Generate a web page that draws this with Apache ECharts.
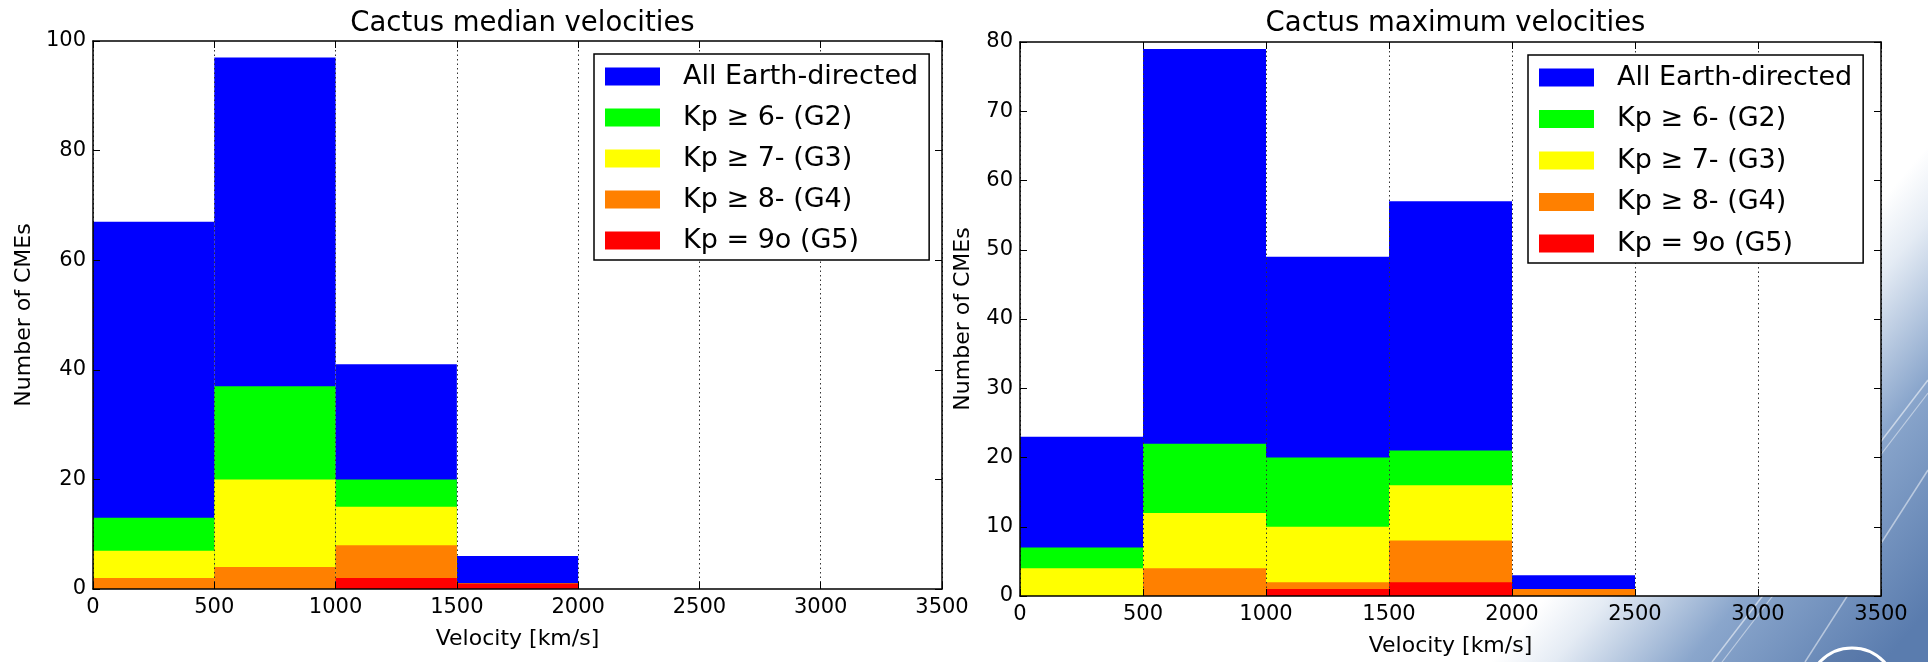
<!DOCTYPE html>
<html><head><meta charset="utf-8">
<script src="https://cdn.jsdelivr.net/npm/echarts@6/dist/echarts.min.js"></script>
<style>html,body{margin:0;padding:0;background:#fff}#c{width:1928px;height:662px}</style>
</head><body><div id="c"></div>
<script>
// ---- data ----
const binEdges = [0, 500, 1000, 1500, 2000, 2500, 3000, 3500];
const seriesNames = ['All Earth-directed', 'Kp \u2265 6- (G2)', 'Kp \u2265 7- (G3)', 'Kp \u2265 8- (G4)', 'Kp = 9o (G5)'];
const seriesColors = ['#0000ff', '#00ff00', '#ffff00', '#ff8000', '#ff0000'];

const medianAll = [67, 97, 41, 6, 0, 0, 0];
const medianG2  = [13, 37, 20, 1, 0, 0, 0];
const medianG3  = [7, 20, 15, 1, 0, 0, 0];
const medianG4  = [2, 4, 8, 1, 0, 0, 0];
const medianG5  = [0, 0, 2, 1, 0, 0, 0];

const maxAll = [23, 79, 49, 57, 3, 0, 0];
const maxG2  = [7, 22, 20, 21, 1, 0, 0];
const maxG3  = [4, 12, 10, 16, 1, 0, 0];
const maxG4  = [0, 4, 2, 8, 1, 0, 0];
const maxG5  = [0, 0, 1, 2, 0, 0, 0];

const xTickLabels = ['0', '500', '1000', '1500', '2000', '2500', '3000', '3500'];
const medianYTicks = [0, 20, 40, 60, 80, 100];
const maxYTicks = [0, 10, 20, 30, 40, 50, 60, 70, 80];

const titles = ['Cactus median velocities', 'Cactus maximum velocities'];
const xName = 'Velocity [km/s]';
const yName = 'Number of CMEs';

// ---- build ----
const FONT = 'DejaVu Sans';
const medianSets = [medianAll, medianG2, medianG3, medianG4, medianG5];
const maxSets = [maxAll, maxG2, maxG3, maxG4, maxG5];

function binData(vals) {
  return vals.map((v, i) => [binEdges[i], binEdges[i + 1], v]);
}
function renderBin(params, api) {
  const x0 = api.value(0), x1 = api.value(1), v = api.value(2);
  if (!v) return null;
  const p0 = api.coord([x0, v]);
  const p1 = api.coord([x1, 0]);
  return {
    type: 'rect',
    shape: { x: p0[0], y: p0[1], width: p1[0] - p0[0], height: p1[1] - p0[1] },
    style: { fill: api.visual('color') }
  };
}

const grids = [
  { left: 93, top: 41, width: 849, height: 548 },
  { left: 1020, top: 42, width: 861, height: 555 }
];
const yConf = [
  { max: 100, interval: 20, nameGap: 58 },
  { max: 80, interval: 10, nameGap: 46 }
];

const xAxes = [], yAxes = [], series = [];
grids.forEach((g, gi) => {
  const axisLine = { show: true, onZero: false, lineStyle: { color: '#000', width: 1.5 } };
  const tick = { show: true, inside: true, length: 7, lineStyle: { color: '#000', width: 1 } };
  xAxes.push({
    gridIndex: gi, type: 'value', position: 'bottom', min: 0, max: 3500, interval: 500, z: 3,
    axisLine, axisTick: tick,
    axisLabel: { fontFamily: FONT, fontSize: 21, color: '#000', margin: 8,
      formatter: (v) => xTickLabels[binEdges.indexOf(v)] },
    splitLine: { show: true, lineStyle: { type: [1.5, 3], color: '#333', width: 1 } },
    name: xName, nameLocation: 'middle', nameGap: 39,
    nameTextStyle: { fontFamily: FONT, fontSize: 22, color: '#000' }
  });
  xAxes.push({
    gridIndex: gi, type: 'value', position: 'top', min: 0, max: 3500, interval: 500, z: 3,
    axisLine, axisTick: tick, axisLabel: { show: false }, splitLine: { show: false }
  });
  const yt = gi === 0 ? medianYTicks : maxYTicks;
  yAxes.push({
    gridIndex: gi, type: 'value', position: 'left', min: 0, max: yConf[gi].max, interval: yConf[gi].interval, z: 3,
    axisLine, axisTick: tick,
    axisLabel: { fontFamily: FONT, fontSize: 21, color: '#000', margin: 7,
      formatter: (v) => String(yt[yt.indexOf(v)]) },
    splitLine: { show: false },
    name: yName, nameLocation: 'middle', nameGap: yConf[gi].nameGap,
    nameTextStyle: { fontFamily: FONT, fontSize: 22, color: '#000' }
  });
  yAxes.push({
    gridIndex: gi, type: 'value', position: 'right', min: 0, max: yConf[gi].max, interval: yConf[gi].interval, z: 3,
    axisLine, axisTick: tick, axisLabel: { show: false }, splitLine: { show: false }
  });
  const sets = gi === 0 ? medianSets : maxSets;
  sets.forEach((vals, si) => {
    series.push({
      type: 'custom', name: seriesNames[si],
      xAxisIndex: gi * 2, yAxisIndex: gi * 2,
      renderItem: renderBin,
      encode: { x: [0, 1], y: 2 },
      itemStyle: { color: seriesColors[si] },
      data: binData(vals), z: 2 + si * 0.01, silent: true, animation: false
    });
  });
});

function legendFor(left, top, gap) {
  return {
    orient: 'vertical', left, top, icon: 'rect', itemWidth: 55, itemHeight: 18, itemGap: gap,
    data: seriesNames, selectedMode: false,
    borderColor: '#000', borderWidth: 1.5, backgroundColor: '#fff', borderRadius: 0,
    padding: [9, 11, 6, 11], z: 6,
    textStyle: { fontFamily: FONT, fontSize: 27, color: '#000', lineHeight: 27, padding: [0, 0, 0, 18] }
  };
}

// background decoration (bottom right)
const bgGraphic = [
  { type: 'rect', z: -10, silent: true, shape: { x: 0, y: 0, width: 1928, height: 662 },
    style: { fill: { type: 'linear', x: 1728, y: 382, x2: 1957, y2: 576, global: true,
      colorStops: [
        { offset: 0, color: '#ffffff' },
        { offset: 0.16, color: '#e4ebf4' },
        { offset: 0.5, color: '#8aa6cc' },
        { offset: 1, color: '#5a7cae' }
      ] } } },
  { type: 'line', z: -9, silent: true, shape: { x1: 1712, y1: 662, x2: 1928, y2: 380 },
    style: { stroke: 'rgba(255,255,255,0.55)', lineWidth: 1.5 } },
  { type: 'line', z: -9, silent: true, shape: { x1: 1722, y1: 662, x2: 1928, y2: 393 },
    style: { stroke: 'rgba(255,255,255,0.45)', lineWidth: 1.2 } },
  { type: 'line', z: -9, silent: true, shape: { x1: 1805, y1: 662, x2: 1928, y2: 470 },
    style: { stroke: 'rgba(255,255,255,0.5)', lineWidth: 1.5 } },
  { type: 'circle', z: -8, silent: true, shape: { cx: 1852, cy: 692, r: 44 },
    style: { fill: 'rgba(70,100,150,0.3)', stroke: '#ffffff', lineWidth: 3 } }
];

const chart = echarts.init(document.getElementById('c'), null, { renderer: 'canvas' });
chart.setOption({
  animation: false,
  backgroundColor: '#ffffff',
  textStyle: { fontFamily: FONT },
  title: [
    { text: titles[0], left: 517.5, textAlign: 'center', top: 5,
      textStyle: { fontFamily: FONT, fontSize: 27.5, fontWeight: 'normal', color: '#000' } },
    { text: titles[1], left: 1450.5, textAlign: 'center', top: 5,
      textStyle: { fontFamily: FONT, fontSize: 27.5, fontWeight: 'normal', color: '#000' } }
  ],
  grid: grids.map(g => Object.assign({ show: true, backgroundColor: '#ffffff', borderWidth: 0, z: 0 }, g)),
  legend: [legendFor(594, 54, 14), legendFor(1528, 55, 14.5)],
  xAxis: xAxes,
  yAxis: yAxes,
  graphic: bgGraphic,
  series
});
</script>
</body></html>
